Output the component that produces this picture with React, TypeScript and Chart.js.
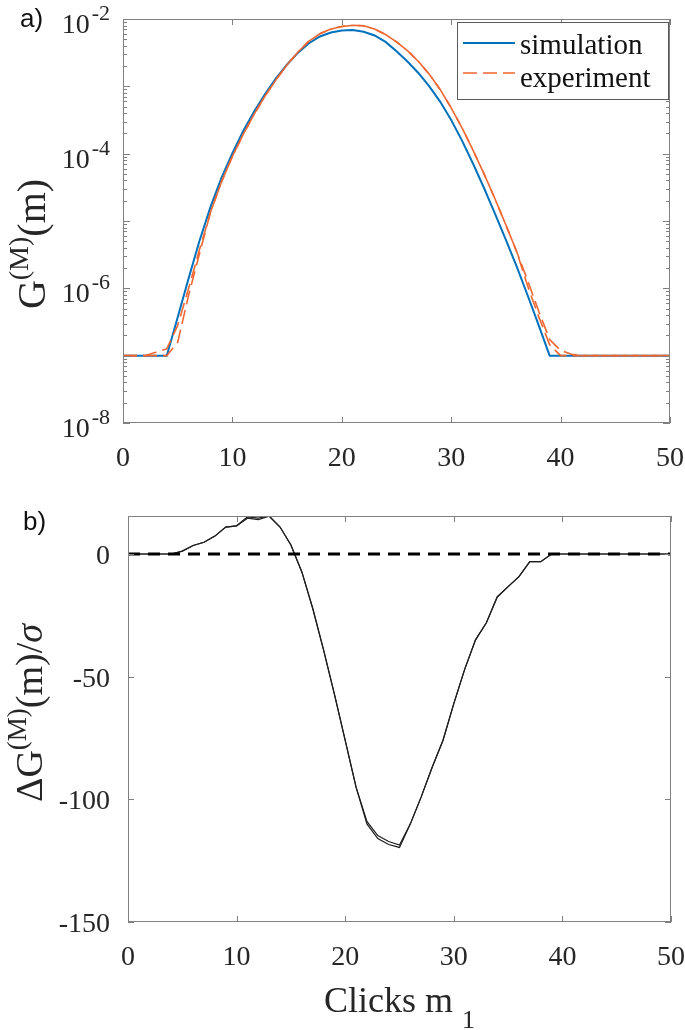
import React, { useEffect, useRef } from "react";
import { Chart, registerables } from "chart.js";

Chart.register(...registerables);

// ---------------- data ----------------
const clicks = [
  0, 1, 2, 3, 4, 5, 6, 7, 8, 9, 10, 11, 12, 13, 14, 15, 16, 17, 18, 19, 20, 21, 22, 23, 24, 25,
  26, 27, 28, 29, 30, 31, 32, 33, 34, 35, 36, 37, 38, 39, 40, 41, 42, 43, 44, 45, 46, 47, 48, 49, 50,
];

const simulation = [
  1e-7, 1e-7, 1e-7, 1e-7, 1e-7, 3.72e-7, 1.41e-6, 5.13e-6, 1.62e-5, 4.37e-5, 1.02e-4, 2.19e-4, 4.27e-4,
  7.76e-4, 1.32e-3, 2.11e-3, 3.16e-3, 4.37e-3, 5.5e-3, 6.31e-3, 6.76e-3, 6.84e-3, 6.46e-3, 5.69e-3,
  4.57e-3, 3.31e-3, 2.34e-3, 1.58e-3, 1.0e-3, 5.89e-4, 3.16e-4, 1.55e-4, 7.08e-5, 3.09e-5, 1.29e-5,
  5.25e-6, 2.09e-6, 7.76e-7, 2.82e-7, 1e-7, 1e-7, 1e-7, 1e-7, 1e-7, 1e-7, 1e-7, 1e-7, 1e-7, 1e-7, 1e-7, 1e-7,
];

const experimentUpper = [
  1e-7, 1e-7, 1e-7, 1.12e-7, 1.26e-7, 2.82e-7, 1.0e-6, 3.8e-6, 1.35e-5, 3.8e-5, 9.12e-5, 1.95e-4, 3.89e-4,
  7.24e-4, 1.26e-3, 2.09e-3, 3.24e-3, 4.68e-3, 6.03e-3, 7.08e-3, 7.76e-3, 8.04e-3, 7.94e-3, 7.08e-3,
  5.89e-3, 4.57e-3, 3.39e-3, 2.34e-3, 1.51e-3, 8.91e-4, 4.79e-4, 2.4e-4, 1.12e-4, 5.01e-5, 2.14e-5,
  8.71e-6, 3.47e-6, 1.29e-6, 4.57e-7, 1.74e-7, 1.2e-7, 1.05e-7, 1e-7, 1e-7, 1e-7, 1e-7, 1e-7, 1e-7, 1e-7, 1e-7, 1e-7,
];

const experimentLower = [
  1e-7, 1e-7, 1e-7, 1e-7, 1e-7, 1.58e-7, 7.94e-7, 3.31e-6, 1.35e-5, 3.8e-5, 9.12e-5, 1.95e-4, 3.89e-4,
  7.24e-4, 1.26e-3, 2.09e-3, 3.24e-3, 4.68e-3, 6.03e-3, 7.08e-3, 7.76e-3, 8.04e-3, 7.94e-3, 7.08e-3,
  5.89e-3, 4.57e-3, 3.39e-3, 2.34e-3, 1.51e-3, 8.91e-4, 4.79e-4, 2.4e-4, 1.12e-4, 5.01e-5, 2.14e-5,
  8.71e-6, 3.47e-6, 1.07e-6, 3.8e-7, 1.45e-7, 1e-7, 1e-7, 1e-7, 1e-7, 1e-7, 1e-7, 1e-7, 1e-7, 1e-7, 1e-7, 1e-7,
];

const deltaUpper = [
  0, 0, 0, 0, 0, 1.2, 3.5, 4.8, 7.3, 11.0, 11.5, 15.1, 14.6, 15.5, 11.0, 3.7, -7.2, -22, -39, -57, -76,
  -95, -109, -114.8, -117.2, -118.6, -110, -99, -87, -76, -61, -47, -35, -28, -17.5, -13.3, -9.2, -3.1,
  -3.1, 0, 0, 0, 0, 0, 0, 0, 0, 0, 0, 0, 0,
];

const deltaLower = [
  0, 0, 0, 0, 0, 1.2, 3.5, 4.8, 7.3, 11.0, 11.5, 14.6, 14.0, 15.4, 11.0, 3.7, -7.2, -22, -39, -57, -76,
  -95, -110, -116, -118.4, -119.6, -110, -99, -87, -76, -61, -47, -35, -28, -17.5, -13.3, -9.2, -3.1,
  -3.1, 0, 0, 0, 0, 0, 0, 0, 0, 0, 0, 0, 0,
];

const zeroLineX = [0, 50];
const zeroLineY = [0, 0];

const xTickValues = [0, 10, 20, 30, 40, 50];
const topYLabelValues = [1e-2, 1e-4, 1e-6, 1e-8];
const topYLabelExponents = ["-2", "-4", "-6", "-8"];
const topDecades = [1e-8, 1e-7, 1e-6, 1e-5, 1e-4, 1e-3, 1e-2];
const minorMultipliers = [2, 3, 4, 5, 6, 7, 8, 9];
const bottomYTickValues = [0, -50, -100, -150];
const legendLabels = ["simulation", "experiment"];

// ---------------- styles ----------------
const SERIF = '"Liberation Serif", "Times New Roman", Times, serif';
const SANS = '"Liberation Sans", Arial, Helvetica, sans-serif';
const TEXT = "#262626";
const AXIS = "#808080";
const BLUE = "#0072BD";
const ORANGE = "#EE6630";
const TICK_FONT = 28;

type Part = { t: string; size: number; dy?: number; dx?: number; italic?: boolean };

function partsWidth(ctx: CanvasRenderingContext2D, parts: Part[]) {
  let w = 0;
  for (const p of parts) {
    ctx.font = `${p.italic ? "italic " : ""}${p.size}px ${SERIF}`;
    w += ctx.measureText(p.t).width + (p.dx || 0);
  }
  return w;
}

function drawParts(
  ctx: CanvasRenderingContext2D,
  parts: Part[],
  x: number,
  y: number,
  align: "left" | "center" | "right"
) {
  const w = partsWidth(ctx, parts);
  let cx = align === "left" ? x : align === "center" ? x - w / 2 : x - w;
  ctx.textAlign = "left";
  ctx.textBaseline = "alphabetic";
  for (const p of parts) {
    ctx.font = `${p.italic ? "italic " : ""}${p.size}px ${SERIF}`;
    cx += p.dx || 0;
    ctx.fillText(p.t, cx, y + (p.dy || 0));
    cx += ctx.measureText(p.t).width;
  }
}

function pts(xs: number[], ys: number[]) {
  return xs.map((x, i) => ({ x, y: ys[i] }));
}

const topPlugin = {
  id: "topFrame",
  afterDraw(chart: any) {
    const { ctx, chartArea: a, scales } = chart;
    const xs = scales.x;
    const ys = scales.y;
    ctx.save();
    ctx.strokeStyle = AXIS;
    ctx.lineWidth = 1;
    ctx.beginPath();
    for (const v of xTickValues) {
      const px = Math.round(xs.getPixelForValue(v)) + 0.5;
      ctx.moveTo(px, a.bottom);
      ctx.lineTo(px, a.bottom - 6);
      ctx.moveTo(px, a.top);
      ctx.lineTo(px, a.top + 6);
    }
    for (const d of topDecades) {
      const py = Math.round(ys.getPixelForValue(d)) + 0.5;
      ctx.moveTo(a.left, py);
      ctx.lineTo(a.left + 7, py);
      ctx.moveTo(a.right, py);
      ctx.lineTo(a.right - 7, py);
      if (d < 1e-2) {
        for (const m of minorMultipliers) {
          const pm = Math.round(ys.getPixelForValue(d * m)) + 0.5;
          ctx.moveTo(a.left, pm);
          ctx.lineTo(a.left + 4, pm);
          ctx.moveTo(a.right, pm);
          ctx.lineTo(a.right - 4, pm);
        }
      }
    }
    ctx.stroke();
    ctx.strokeRect(a.left + 0.5, a.top + 0.5, a.right - a.left - 1, a.bottom - a.top - 1);

    ctx.fillStyle = TEXT;
    ctx.textBaseline = "alphabetic";
    ctx.textAlign = "center";
    ctx.font = `${TICK_FONT}px ${SERIF}`;
    for (const v of xTickValues) {
      ctx.fillText(String(v), xs.getPixelForValue(v), a.bottom + 43);
    }
    topYLabelValues.forEach((v, i) => {
      const py = ys.getPixelForValue(v);
      drawParts(
        ctx,
        [
          { t: "10", size: TICK_FONT },
          { t: topYLabelExponents[i], size: 22, dy: -13, dx: 2 },
        ],
        a.left - 13,
        py + 14,
        "right"
      );
    });

    // y title
    ctx.save();
    ctx.translate(45, 244);
    ctx.rotate(-Math.PI / 2);
    drawParts(
      ctx,
      [
        { t: "G", size: 40 },
        { t: "(M)", size: 28, dy: -17 },
        { t: "(m)", size: 40 },
      ],
      0,
      0,
      "center"
    );
    ctx.restore();

    // legend
    const lx = 457, ly = 22, lw = 211, lh = 77;
    ctx.fillStyle = "#ffffff";
    ctx.fillRect(lx, ly, lw, lh);
    ctx.strokeStyle = "#5a5a5a";
    ctx.lineWidth = 1;
    ctx.strokeRect(lx + 0.5, ly + 0.5, lw, lh);
    ctx.strokeStyle = BLUE;
    ctx.lineWidth = 2;
    ctx.beginPath();
    ctx.moveTo(463, 43);
    ctx.lineTo(515, 43);
    ctx.stroke();
    ctx.strokeStyle = ORANGE;
    ctx.lineWidth = 1.6;
    ctx.setLineDash([14, 6]);
    ctx.beginPath();
    ctx.moveTo(463, 73);
    ctx.lineTo(515, 73);
    ctx.stroke();
    ctx.setLineDash([]);
    ctx.fillStyle = "#111111";
    ctx.textAlign = "left";
    ctx.font = `29px ${SERIF}`;
    ctx.fillText(legendLabels[0], 520, 54);
    ctx.fillText(legendLabels[1], 520, 87);

    // panel label
    ctx.font = `26px ${SANS}`;
    ctx.fillStyle = "#111111";
    ctx.fillText("a)", 20, 27);
    ctx.restore();
  },
};

const bottomPlugin = {
  id: "bottomFrame",
  afterDraw(chart: any) {
    const { ctx, chartArea: a, scales } = chart;
    const xs = scales.x;
    const ys = scales.y;
    ctx.save();
    ctx.strokeStyle = AXIS;
    ctx.lineWidth = 1;
    ctx.beginPath();
    for (const v of xTickValues) {
      const px = Math.round(xs.getPixelForValue(v)) + 0.5;
      ctx.moveTo(px, a.bottom);
      ctx.lineTo(px, a.bottom - 6);
      ctx.moveTo(px, a.top);
      ctx.lineTo(px, a.top + 6);
    }
    for (const v of bottomYTickValues) {
      const py = Math.round(ys.getPixelForValue(v)) + 0.5;
      ctx.moveTo(a.left, py);
      ctx.lineTo(a.left + 6, py);
      ctx.moveTo(a.right, py);
      ctx.lineTo(a.right - 6, py);
    }
    ctx.stroke();
    ctx.strokeRect(a.left + 0.5, a.top + 0.5, a.right - a.left - 1, a.bottom - a.top - 1);

    ctx.fillStyle = TEXT;
    ctx.textBaseline = "alphabetic";
    ctx.textAlign = "center";
    ctx.font = `${TICK_FONT}px ${SERIF}`;
    for (const v of xTickValues) {
      ctx.fillText(String(v), xs.getPixelForValue(v), a.bottom + 43);
    }
    ctx.textAlign = "right";
    for (const v of bottomYTickValues) {
      ctx.fillText(String(v), a.left - 18, ys.getPixelForValue(v) + 10);
    }

    // x title
    drawParts(
      ctx,
      [
        { t: "Clicks m", size: 36 },
        { t: "1", size: 26, dy: 16, dx: 9 },
      ],
      (a.left + a.right) / 2,
      a.bottom + 90,
      "center"
    );

    // y title
    ctx.save();
    ctx.translate(42, 713 - 480);
    ctx.rotate(-Math.PI / 2);
    drawParts(
      ctx,
      [
        { t: "ΔG", size: 38 },
        { t: "(M)", size: 27, dy: -16 },
        { t: "(m)/", size: 38 },
        { t: "σ", size: 38, italic: true },
      ],
      0,
      0,
      "center"
    );
    ctx.restore();

    ctx.font = `26px ${SANS}`;
    ctx.fillStyle = "#111111";
    ctx.textAlign = "left";
    ctx.fillText("b)", 23, 50);
    ctx.restore();
  },
};

export default function App() {
  const topRef = useRef<HTMLCanvasElement | null>(null);
  const bottomRef = useRef<HTMLCanvasElement | null>(null);

  useEffect(() => {
    if (!topRef.current || !bottomRef.current) return;
    const top = new Chart(topRef.current, {
      type: "line",
      data: {
        datasets: [
          {
            label: legendLabels[0],
            data: pts(clicks, simulation),
            borderColor: BLUE,
            borderWidth: 2,
            pointRadius: 0,
            tension: 0,
            order: 3,
          },
          {
            label: legendLabels[1],
            data: pts(clicks, experimentUpper),
            borderColor: ORANGE,
            borderWidth: 1.6,
            borderDash: [14, 6],
            pointRadius: 0,
            tension: 0,
            order: 2,
          },
          {
            label: legendLabels[1] + " (lower)",
            data: pts(clicks, experimentLower),
            borderColor: ORANGE,
            borderWidth: 1.6,
            borderDash: [14, 6],
            pointRadius: 0,
            tension: 0,
            order: 1,
          },
        ],
      },
      options: {
        animation: false,
        responsive: false,
        layout: { padding: { left: 123, top: 19, right: 15, bottom: 57 } },
        scales: {
          x: { type: "linear", min: 0, max: 50, display: false },
          y: { type: "logarithmic", min: 1e-8, max: 1e-2, display: false },
        },
        plugins: { legend: { display: false }, tooltip: { enabled: false } },
      },
      plugins: [topPlugin],
    } as any);

    const bottom = new Chart(bottomRef.current, {
      type: "line",
      data: {
        datasets: [
          {
            label: "ΔG upper",
            data: pts(clicks, deltaUpper),
            borderColor: "#1e1e1e",
            borderWidth: 1.2,
            pointRadius: 0,
            tension: 0,
            order: 3,
          },
          {
            label: "ΔG lower",
            data: pts(clicks, deltaLower),
            borderColor: "#1e1e1e",
            borderWidth: 1.2,
            pointRadius: 0,
            tension: 0,
            order: 2,
          },
          {
            label: "zero",
            data: pts(zeroLineX, zeroLineY),
            borderColor: "#000000",
            borderWidth: 3,
            borderDash: [12, 8],
            pointRadius: 0,
            tension: 0,
            order: 1,
          },
        ],
      },
      options: {
        animation: false,
        responsive: false,
        layout: { padding: { left: 128, top: 36, right: 14, bottom: 108 } },
        scales: {
          x: { type: "linear", min: 0, max: 50, display: false },
          y: { type: "linear", min: -150, max: 15.5, display: false },
        },
        plugins: { legend: { display: false }, tooltip: { enabled: false } },
      },
      plugins: [bottomPlugin],
    } as any);

    return () => {
      top.destroy();
      bottom.destroy();
    };
  }, []);

  return (
    <div
      style={{
        position: "absolute",
        left: 0,
        top: 0,
        width: 685,
        height: 1030,
        background: "#ffffff",
        overflow: "hidden",
      }}
    >
      <canvas
        ref={topRef}
        width={685}
        height={480}
        style={{ position: "absolute", left: 0, top: 0, width: 685, height: 480 }}
      />
      <canvas
        ref={bottomRef}
        width={685}
        height={550}
        style={{ position: "absolute", left: 0, top: 480, width: 685, height: 550 }}
      />
    </div>
  );
}
